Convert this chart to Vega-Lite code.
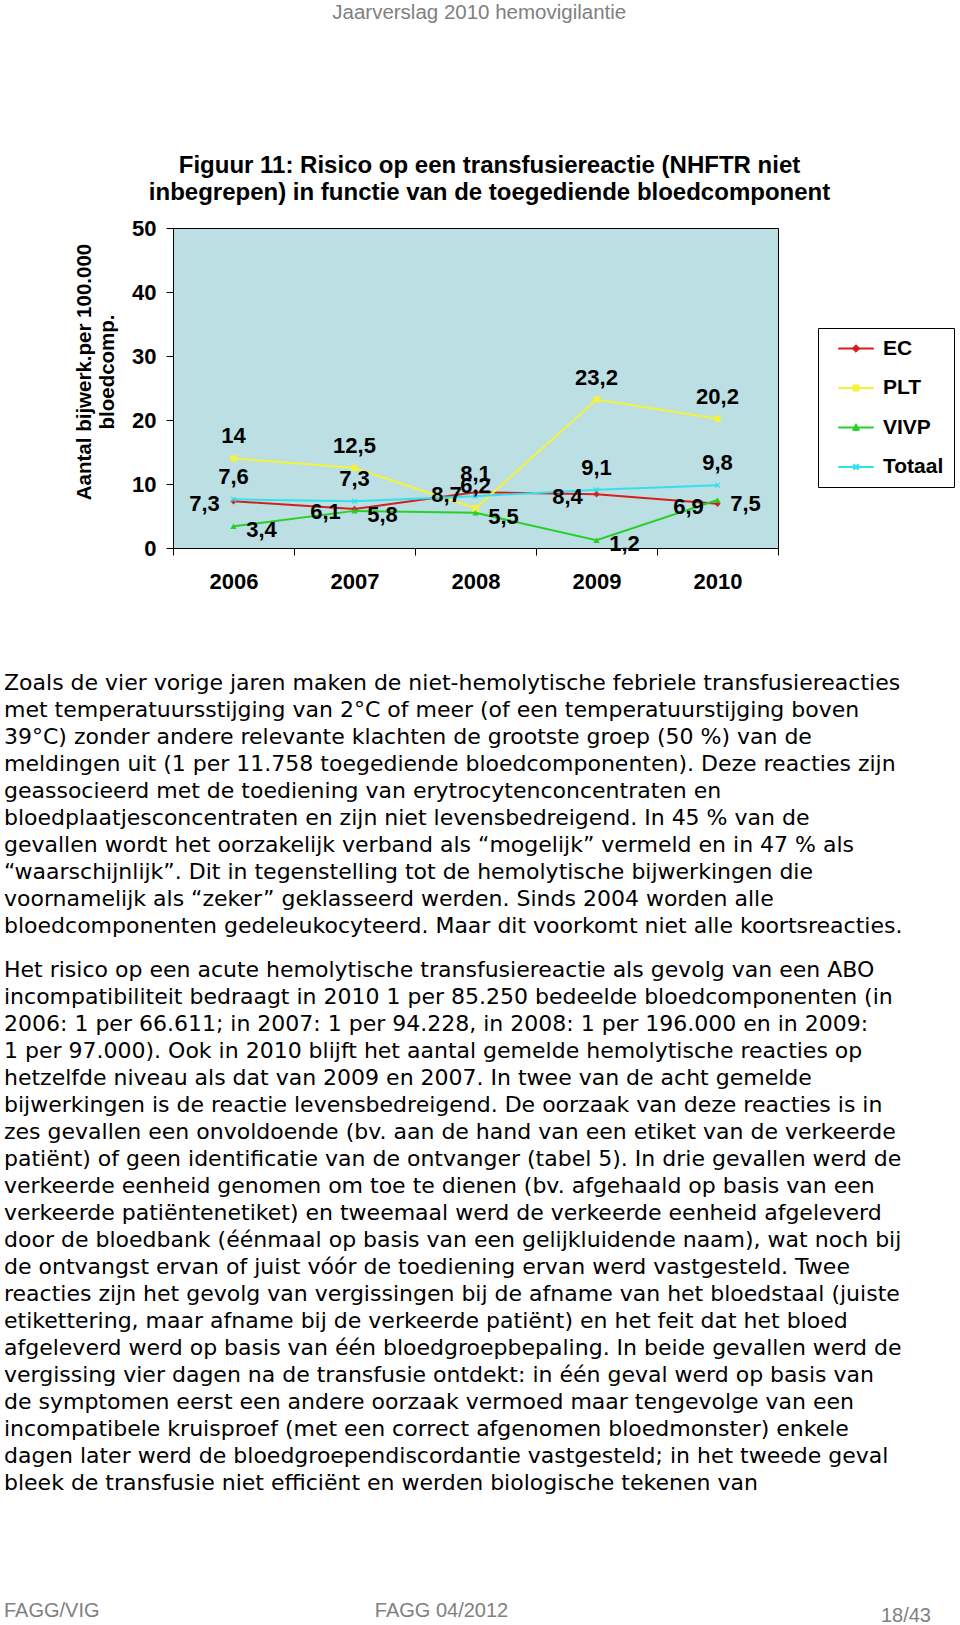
{
  "$schema": "https://vega.github.io/schema/vega-lite/v6.json",
  "padding": {"left": 4, "top": 2, "right": 0, "bottom": 0},
  "background": "white",
  "title": {"text": "Jaarverslag 2010 hemovigilantie", "anchor": "middle", "frame": "bounds", "font": "Liberation Sans", "fontSize": 20.5, "fontWeight": "normal", "color": "#808080", "offset": 130},
  "spacing": 16,
  "datasets": {
    "risico": [
      {"jaar": "2006", "reeks": "EC", "waarde": 7.3},
      {"jaar": "2007", "reeks": "EC", "waarde": 6.1},
      {"jaar": "2008", "reeks": "EC", "waarde": 8.7},
      {"jaar": "2009", "reeks": "EC", "waarde": 8.4},
      {"jaar": "2010", "reeks": "EC", "waarde": 6.9},
      {"jaar": "2006", "reeks": "PLT", "waarde": 14},
      {"jaar": "2007", "reeks": "PLT", "waarde": 12.5},
      {"jaar": "2008", "reeks": "PLT", "waarde": 6.2},
      {"jaar": "2009", "reeks": "PLT", "waarde": 23.2},
      {"jaar": "2010", "reeks": "PLT", "waarde": 20.2},
      {"jaar": "2006", "reeks": "VIVP", "waarde": 3.4},
      {"jaar": "2007", "reeks": "VIVP", "waarde": 5.8},
      {"jaar": "2008", "reeks": "VIVP", "waarde": 5.5},
      {"jaar": "2009", "reeks": "VIVP", "waarde": 1.2},
      {"jaar": "2010", "reeks": "VIVP", "waarde": 7.5},
      {"jaar": "2006", "reeks": "Totaal", "waarde": 7.6},
      {"jaar": "2007", "reeks": "Totaal", "waarde": 7.3},
      {"jaar": "2008", "reeks": "Totaal", "waarde": 8.1},
      {"jaar": "2009", "reeks": "Totaal", "waarde": 9.1},
      {"jaar": "2010", "reeks": "Totaal", "waarde": 9.8}
    ],
    "alinea1": [
      {"regel": 1, "tekst": "Zoals de vier vorige jaren maken de niet-hemolytische febriele transfusiereacties"},
      {"regel": 2, "tekst": "met temperatuursstijging van 2°C of meer (of een temperatuurstijging boven"},
      {"regel": 3, "tekst": "39°C) zonder andere relevante klachten de grootste groep (50 %) van de"},
      {"regel": 4, "tekst": "meldingen uit (1 per 11.758 toegediende bloedcomponenten). Deze reacties zijn"},
      {"regel": 5, "tekst": "geassocieerd met de toediening van erytrocytenconcentraten en"},
      {"regel": 6, "tekst": "bloedplaatjesconcentraten en zijn niet levensbedreigend. In 45 % van de"},
      {"regel": 7, "tekst": "gevallen wordt het oorzakelijk verband als “mogelijk” vermeld en in 47 % als"},
      {"regel": 8, "tekst": "“waarschijnlijk”. Dit in tegenstelling tot de hemolytische bijwerkingen die"},
      {"regel": 9, "tekst": "voornamelijk als “zeker” geklasseerd werden. Sinds 2004 worden alle"},
      {"regel": 10, "tekst": "bloedcomponenten gedeleukocyteerd. Maar dit voorkomt niet alle koortsreacties."}
    ],
    "alinea2": [
      {"regel": 1, "tekst": "Het risico op een acute hemolytische transfusiereactie als gevolg van een ABO"},
      {"regel": 2, "tekst": "incompatibiliteit bedraagt in 2010 1 per 85.250 bedeelde bloedcomponenten (in"},
      {"regel": 3, "tekst": "2006: 1 per 66.611; in 2007: 1 per 94.228, in 2008: 1 per 196.000 en in 2009:"},
      {"regel": 4, "tekst": "1 per 97.000). Ook in 2010 blijft het aantal gemelde hemolytische reacties op"},
      {"regel": 5, "tekst": "hetzelfde niveau als dat van 2009 en 2007.  In twee van de acht gemelde"},
      {"regel": 6, "tekst": "bijwerkingen is de reactie levensbedreigend. De oorzaak van deze reacties is in"},
      {"regel": 7, "tekst": "zes gevallen een onvoldoende (bv. aan de hand van een etiket van de verkeerde"},
      {"regel": 8, "tekst": "patiënt) of geen identificatie van de ontvanger (tabel 5). In drie gevallen werd de"},
      {"regel": 9, "tekst": "verkeerde eenheid genomen om toe te dienen (bv. afgehaald op basis van een"},
      {"regel": 10, "tekst": "verkeerde patiëntenetiket) en tweemaal werd de verkeerde eenheid afgeleverd"},
      {"regel": 11, "tekst": "door de bloedbank (éénmaal op basis van een gelijkluidende naam), wat noch bij"},
      {"regel": 12, "tekst": "de ontvangst ervan of juist vóór de toediening ervan werd vastgesteld. Twee"},
      {"regel": 13, "tekst": "reacties zijn het gevolg van vergissingen bij de afname van het bloedstaal (juiste"},
      {"regel": 14, "tekst": "etikettering, maar afname bij de verkeerde patiënt) en het feit dat het bloed"},
      {"regel": 15, "tekst": "afgeleverd werd op basis van één bloedgroepbepaling. In beide gevallen werd de"},
      {"regel": 16, "tekst": "vergissing vier dagen na de transfusie ontdekt: in één geval werd op basis van"},
      {"regel": 17, "tekst": "de symptomen eerst een andere oorzaak vermoed maar tengevolge van een"},
      {"regel": 18, "tekst": "incompatibele kruisproef (met een correct afgenomen bloedmonster) enkele"},
      {"regel": 19, "tekst": "dagen later werd de bloedgroependiscordantie vastgesteld; in het tweede geval"},
      {"regel": 20, "tekst": "bleek de transfusie niet efficiënt en werden biologische tekenen van"}
    ],
    "voet": [
      {"tekst": "FAGG/VIG", "plaats": "links"},
      {"tekst": "FAGG 04/2012", "plaats": "midden"},
      {"tekst": "18/43", "plaats": "rechts"}
    ]
  },
  "vconcat": [
    {
      "hconcat": [
        {"width": 169, "height": 426, "data": {"values": []}, "mark": "point"},
        {
          "width": 605,
          "height": 320,
          "view": {"fill": "#bbdfe3", "stroke": "black", "strokeWidth": 1},
          "title": {
            "text": ["Figuur 11: Risico op een transfusiereactie (NHFTR niet", "inbegrepen) in functie van de toegediende bloedcomponent"],
            "frame": "group", "anchor": "middle", "dx": 14, "offset": 12.5,
            "font": "Liberation Sans", "fontSize": 24, "fontWeight": "bold", "lineHeight": 27, "color": "black"
          },
          "data": {"name": "risico"},
          "encoding": {
            "x": {
              "field": "jaar", "type": "ordinal",
              "scale": {"type": "band", "paddingInner": 0, "paddingOuter": 0},
              "axis": {"title": null, "labelAngle": 0, "labelFont": "Liberation Sans", "labelFontSize": 22, "labelFontWeight": "bold", "labelColor": "black", "labelPadding": 16, "tickBand": "extent", "tickSize": 7, "tickColor": "black", "domainColor": "black", "grid": false}
            },
            "y": {
              "field": "waarde", "type": "quantitative",
              "scale": {"domain": [0, 50], "nice": false},
              "axis": {
                "title": ["Aantal bijwerk.per 100.000", "bloedcomp."],
                "titleFont": "Liberation Sans", "titleFontSize": 20.5, "titleFontWeight": "bold", "titleLineHeight": 23, "titleColor": "black",
                "titleY": 143.5, "titlePadding": 14,
                "values": [0, 10, 20, 30, 40, 50],
                "labelFont": "Liberation Sans", "labelFontSize": 22, "labelFontWeight": "bold", "labelColor": "black", "labelPadding": 10, "labelFlush": false,
                "tickSize": 7, "tickColor": "black", "domainColor": "black", "grid": false
              }
            }
          },
          "layer": [
            {
              "mark": {"type": "line", "strokeWidth": 2},
              "encoding": {
                "color": {
                  "field": "reeks", "type": "nominal",
                  "scale": {"domain": ["EC", "PLT", "VIVP", "Totaal"], "range": ["#d41f1f", "#f3f33d", "#25d125", "#33e0ee"]},
                  "legend": {
                    "orient": "none", "legendX": 814, "legendY": 100,
                    "title": null,
                    "strokeColor": "black", "fillColor": "white", "padding": 10,
                    "labelFont": "Liberation Sans", "labelFontSize": 21, "labelFontWeight": "bold", "labelColor": "black", "labelLimit": 0,
                    "labelOffset": 34,
                    "symbolSize": 400, "symbolStrokeWidth": 1,
                    "rowPadding": 17.5
                  }
                }
              }
            },
            {
              "transform": [{"filter": "datum.reeks === 'geen'"}],
              "mark": {"type": "point", "filled": true, "opacity": 1, "size": 400},
              "encoding": {
                "color": {"field": "reeks", "type": "nominal"},
                "shape": {
                  "field": "reeks", "type": "nominal",
                  "scale": {"domain": ["EC", "PLT", "VIVP", "Totaal"], "range": [
                    "M0,-0.05H3.5V0.05H0Z M1.75,-0.38L2.13,0L1.75,0.38L1.37,0Z",
                    "M0,-0.05H3.5V0.05H0Z M1.45,-0.3H2.05V0.3H1.45Z",
                    "M0,-0.05H3.5V0.05H0Z M1.75,-0.38L2.1,0.28H1.4Z",
                    "M0,-0.05H3.5V0.05H0Z M2.05,-0.19L1.86,0L2.05,0.19L1.94,0.3L1.75,0.11L1.56,0.3L1.45,0.19L1.64,0L1.45,-0.19L1.56,-0.3L1.75,-0.11L1.94,-0.3Z"
                  ]},
                  "legend": null
                }
              }
            },
            {
              "transform": [{"filter": "datum.reeks === 'EC'"}],
              "mark": {"type": "point", "shape": "diamond", "filled": true, "opacity": 1, "size": 40, "color": "#d41f1f"}
            },
            {
              "transform": [{"filter": "datum.reeks === 'PLT'"}],
              "mark": {"type": "point", "shape": "square", "filled": true, "opacity": 1, "size": 40, "color": "#f3f33d"}
            },
            {
              "transform": [{"filter": "datum.reeks === 'VIVP'"}],
              "mark": {"type": "point", "shape": "triangle-up", "filled": true, "opacity": 1, "size": 40, "color": "#25d125"}
            },
            {
              "transform": [{"filter": "datum.reeks === 'Totaal'"}],
              "mark": {"type": "point", "shape": "M0.865,-0.55L0.32,0L0.865,0.55L0.55,0.865L0,0.32L-0.55,0.865L-0.865,0.55L-0.32,0L-0.865,-0.55L-0.55,-0.865L0,-0.32L0.55,-0.865Z", "filled": true, "opacity": 1, "size": 40, "color": "#33e0ee"}
            },
            {
              "transform": [{"filter": "datum.reeks === 'EC'"}],
              "mark": {"type": "text", "dx": -29, "dy": 3, "baseline": "middle", "font": "Liberation Sans", "fontSize": 22, "fontWeight": "bold", "color": "black"},
              "encoding": {"text": {"field": "waarde", "type": "quantitative", "format": ".3~r"}}
            },
            {
              "transform": [{"filter": "datum.reeks === 'PLT'"}],
              "mark": {"type": "text", "dy": -22, "baseline": "middle", "font": "Liberation Sans", "fontSize": 22, "fontWeight": "bold", "color": "black"},
              "encoding": {"text": {"field": "waarde", "type": "quantitative", "format": ".3~r"}}
            },
            {
              "transform": [{"filter": "datum.reeks === 'VIVP'"}],
              "mark": {"type": "text", "dx": 28, "dy": 4, "baseline": "middle", "font": "Liberation Sans", "fontSize": 22, "fontWeight": "bold", "color": "black"},
              "encoding": {"text": {"field": "waarde", "type": "quantitative", "format": ".3~r"}}
            },
            {
              "transform": [{"filter": "datum.reeks === 'Totaal'"}],
              "mark": {"type": "text", "dy": -22, "baseline": "middle", "font": "Liberation Sans", "fontSize": 22, "fontWeight": "bold", "color": "black"},
              "encoding": {"text": {"field": "waarde", "type": "quantitative", "format": ".3~r"}}
            }
          ]
        }
      ],
      "spacing": 0,
      "bounds": "flush"
    },
    {
      "width": 914,
      "height": 269.4,
      "data": {"name": "alinea1"},
      "mark": {"type": "text", "align": "left", "baseline": "middle", "font": "DejaVu Sans", "fontSize": 22, "color": "black"},
      "encoding": {
        "x": {"datum": 0, "type": "quantitative", "scale": {"domain": [0, 1]}, "axis": null},
        "y": {"field": "regel", "type": "ordinal", "scale": {"type": "point", "padding": 0.5}, "axis": null},
        "text": {"field": "tekst"}
      }
    },
    {
      "width": 914,
      "height": 541,
      "data": {"name": "alinea2"},
      "mark": {"type": "text", "align": "left", "baseline": "middle", "font": "DejaVu Sans", "fontSize": 22, "color": "black"},
      "encoding": {
        "x": {"datum": 0, "type": "quantitative", "scale": {"domain": [0, 1]}, "axis": null},
        "y": {"field": "regel", "type": "ordinal", "scale": {"type": "point", "padding": 0.5}, "axis": null},
        "text": {"field": "tekst"}
      }
    },
    {
      "width": 927,
      "height": 110,
      "data": {"name": "voet"},
      "encoding": {
        "x": {"field": "plaats", "type": "nominal", "scale": {"type": "point", "domain": ["links", "midden", "rechts"], "padding": 0}, "axis": null},
        "y": {"datum": "voet", "type": "nominal", "scale": {"type": "point", "align": 0.891}, "axis": null},
        "text": {"field": "tekst"}
      },
      "layer": [
        {"transform": [{"filter": "datum.plaats === 'links'"}], "mark": {"type": "text", "align": "left", "baseline": "middle", "font": "Liberation Sans", "fontSize": 20, "color": "#808080"}},
        {"transform": [{"filter": "datum.plaats === 'midden'"}], "mark": {"type": "text", "align": "center", "dx": -26, "baseline": "middle", "font": "Liberation Sans", "fontSize": 20, "color": "#808080"}},
        {"transform": [{"filter": "datum.plaats === 'rechts'"}], "mark": {"type": "text", "align": "right", "dy": 5, "baseline": "middle", "font": "Liberation Sans", "fontSize": 20, "color": "#808080"}}
      ]
    }
  ],
  "config": {
    "view": {"stroke": null},
    "locale": {"number": {"decimal": ",", "thousands": ".", "grouping": [3], "currency": ["€", ""]}}
  }
}
